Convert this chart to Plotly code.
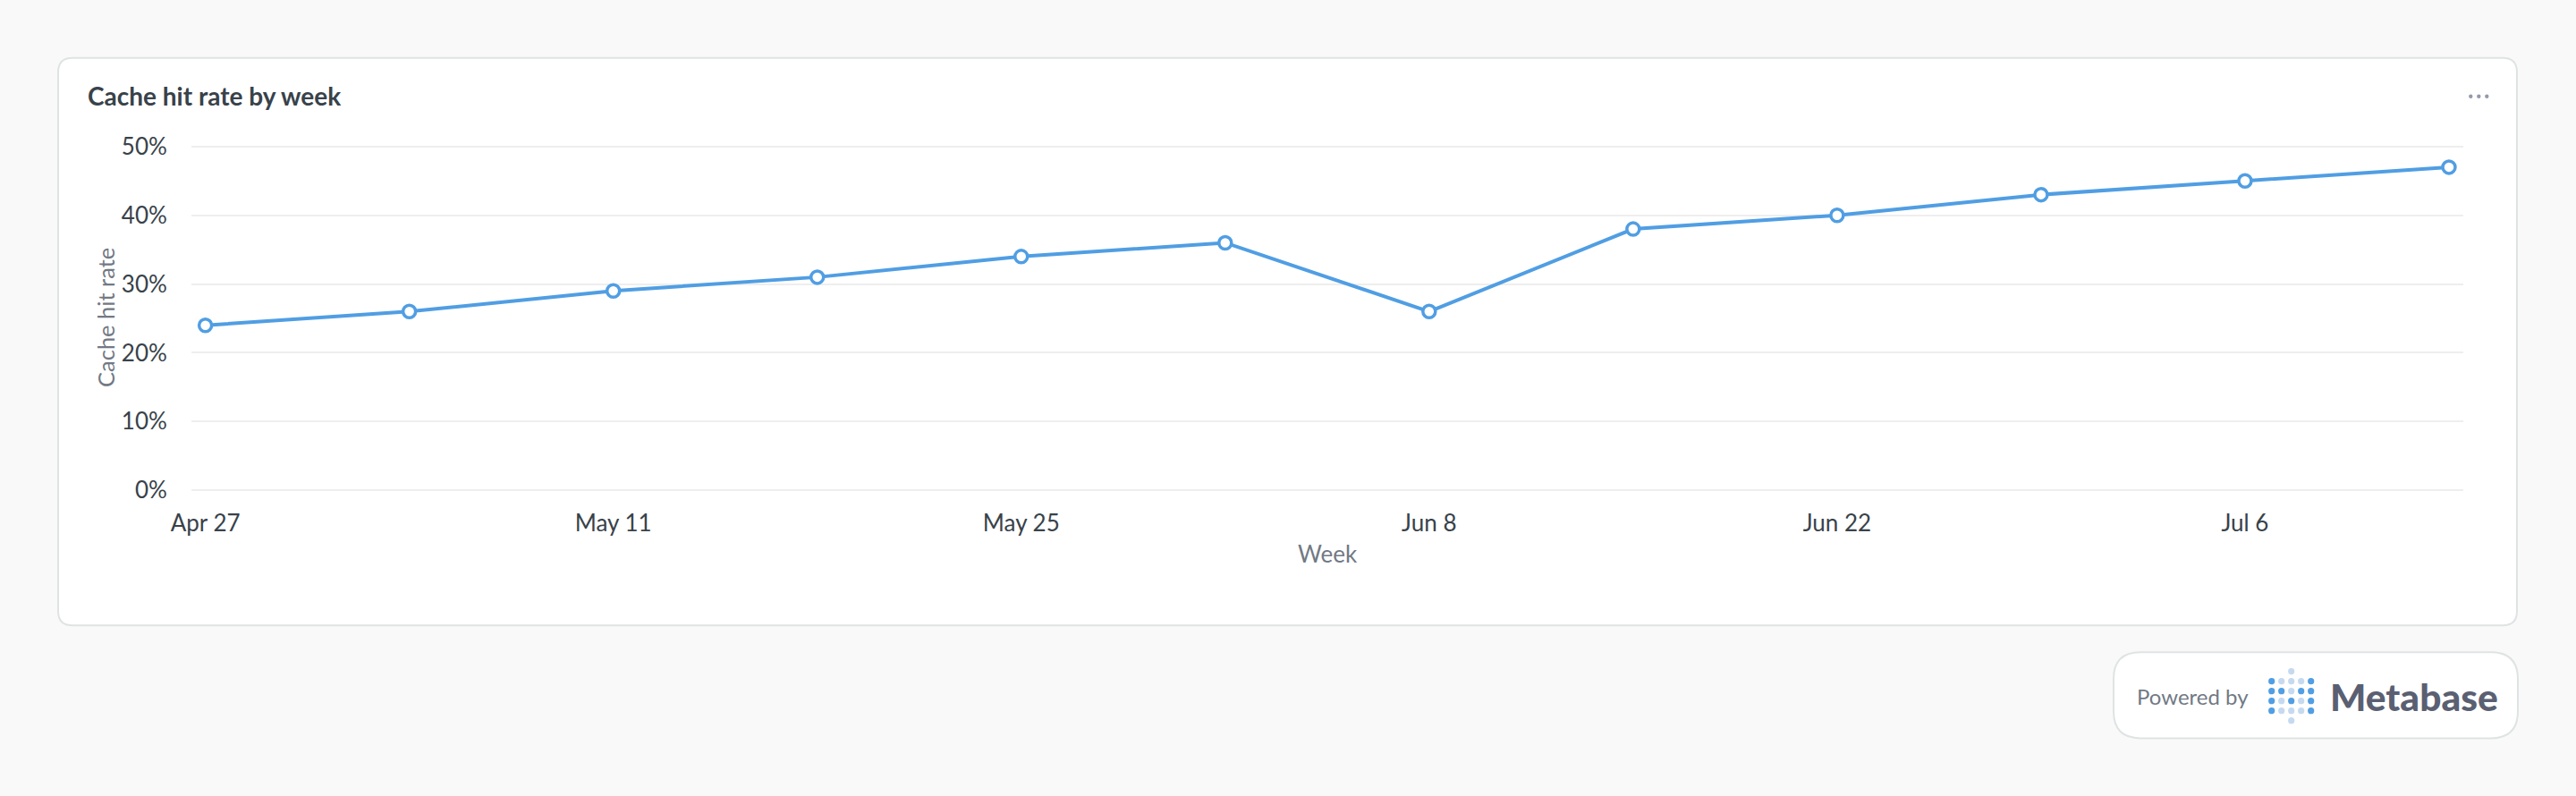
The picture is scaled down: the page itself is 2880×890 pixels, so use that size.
import pandas as pd
import plotly.graph_objects as go

# Chart data
weeks = ['2025-04-27', '2025-05-04', '2025-05-11', '2025-05-18', '2025-05-25', '2025-06-01',
         '2025-06-08', '2025-06-15', '2025-06-22', '2025-06-29', '2025-07-06', '2025-07-13']
hit_rate = [24, 26, 29, 31, 34, 36, 26, 38, 40, 43, 45, 47]
x_tick_vals = ['2025-04-27', '2025-05-11', '2025-05-25', '2025-06-08', '2025-06-22', '2025-07-06']
x_tick_text = ['Apr 27', 'May 11', 'May 25', 'Jun 8', 'Jun 22', 'Jul 6']
y_tick_vals = [0, 10, 20, 30, 40, 50]
y_tick_text = ['0%', '10%', '20%', '30%', '40%', '50%']

W, H = 2880, 890
# y range runs half a unit past 0 and 50, otherwise plotly drops those two gridlines
Y_PAD = 0.5
PLOT_L, PLOT_R = 214, 2754
PLOT_T, PLOT_B = 160.16, 551.84
FONT = 'Lato'
BLUE = '#509ee3'
LIGHT_BLUE = '#c5daf0'
BORDER = '#dfe3e3'
DARK_TEXT = '#38424a'
GREY_TEXT = '#727985'


# shapes and text are placed in page pixels, converted to paper fractions
def px(x):
    return (x - PLOT_L) / (PLOT_R - PLOT_L)


def py(y):
    return (PLOT_B - y) / (PLOT_B - PLOT_T)


def rounded_box(x0, y0, x1, y1, r):
    path = (f'M {px(x0 + r)} {py(y0)} L {px(x1 - r)} {py(y0)} Q {px(x1)} {py(y0)} {px(x1)} {py(y0 + r)} '
            f'L {px(x1)} {py(y1 - r)} Q {px(x1)} {py(y1)} {px(x1 - r)} {py(y1)} '
            f'L {px(x0 + r)} {py(y1)} Q {px(x0)} {py(y1)} {px(x0)} {py(y1 - r)} '
            f'L {px(x0)} {py(y0 + r)} Q {px(x0)} {py(y0)} {px(x0 + r)} {py(y0)} Z')
    return dict(type='path', xref='paper', yref='paper', path=path, fillcolor='white',
                line=dict(color=BORDER, width=2), layer='below')


def dot(cx, cy, r, color):
    return dict(type='circle', xref='paper', yref='paper', x0=px(cx - r), x1=px(cx + r),
                y0=py(cy + r), y1=py(cy - r), fillcolor=color, line=dict(width=0), layer='above')


def label(x, y, text, size, color, anchor='left', angle=0, weight='normal'):
    return dict(xref='paper', yref='paper', x=px(x), y=py(y), text=text, showarrow=False, xanchor=anchor,
                yanchor='middle', textangle=angle, font=dict(family=FONT, size=size, color=color, weight=weight))


shapes = [rounded_box(65, 65, 2814, 699, 16), rounded_box(2363, 729, 2815, 825, 30)]

# menu dots
for cx in [2762.3, 2771.3, 2780.3]:
    shapes.append(dot(cx, 108, 2.2, '#949aab'))

# logo dots, M pattern
logo_rows = ['DLLLD', 'DDLDD', 'DLDLD', 'DLLLD']
for i, row in enumerate(logo_rows):
    for j, c in enumerate(row):
        shapes.append(dot(2539.7 + j * 11, 761.3 + i * 11, 3.6, BLUE if c == 'D' else LIGHT_BLUE))
shapes.append(dot(2561.7, 750.3, 3.6, LIGHT_BLUE))
shapes.append(dot(2561.7, 805.3, 3.6, LIGHT_BLUE))

# half a day of padding each side, the plot runs past the first and last points
x_range = [pd.Timestamp(weeks[0]) - pd.Timedelta(hours=11.5), pd.Timestamp(weeks[-1]) + pd.Timedelta(hours=11.8)]

fig = go.Figure()
fig.add_trace(go.Scatter(x=weeks, y=hit_rate, mode='lines+markers', cliponaxis=False,
                         line=dict(color=BLUE, width=4),
                         marker=dict(size=14, color='white', line=dict(color=BLUE, width=3.5))))

fig.update_layout(
    width=W, height=H, showlegend=False,
    margin=dict(l=PLOT_L, r=W - PLOT_R, t=PLOT_T, b=H - PLOT_B),
    paper_bgcolor='#f9f9f9', plot_bgcolor='rgba(0,0,0,0)',
    font=dict(family=FONT),
    shapes=shapes,
    annotations=[
        label(96, 107, 'Cache hit rate by week', 28, DARK_TEXT, weight='bold'),
        label(118, 355, 'Cache hit rate', 25.5, GREY_TEXT, anchor='center', angle=-90),
        label(1484, 619, 'Week', 26, GREY_TEXT, anchor='center'),
        label(2387, 778, 'Powered by', 24, GREY_TEXT),
        label(2603, 778, 'Metabase', 42.5, '#5a6072', weight=900),
    ],
)
fig.update_xaxes(type='date', range=x_range, tickvals=x_tick_vals, ticktext=x_tick_text,
                 showgrid=False, zeroline=False, showline=False,
                 ticks='outside', ticklen=10, tickcolor='rgba(0,0,0,0)',
                 tickfont=dict(family=FONT, size=26, color=DARK_TEXT))
fig.update_yaxes(range=[-Y_PAD, 50 + Y_PAD], tickvals=y_tick_vals, ticktext=y_tick_text,
                 showgrid=True, gridcolor='#eeeeee', gridwidth=2, zeroline=False, showline=False,
                 ticks='outside', ticklen=21, tickcolor='rgba(0,0,0,0)',
                 tickfont=dict(family=FONT, size=26, color=DARK_TEXT))

fig.write_html('out.html', config=dict(displayModeBar=False),
               post_script="document.body.style.margin='0';document.body.style.background='#f9f9f9';")
